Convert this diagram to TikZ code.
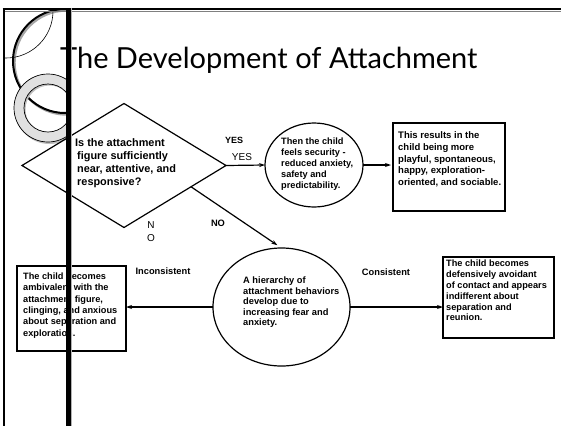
\documentclass[tikz,border=0pt]{standalone}
\usepackage{fontspec}
\setmainfont{Liberation Sans}
\newfontfamily\titlefont{Lato}
\usetikzlibrary{shapes.geometric,arrows.meta,calc}
\begin{document}
\begin{tikzpicture}[x=1pt,y=-1pt,
  txt/.style={inner sep=0pt, anchor=north west, align=left, font=\fontsize{9.5}{11.3}\selectfont\bfseries},
  lbl/.style={inner sep=0pt, font=\fontsize{9.3}{11}\selectfont\bfseries},
  lblr/.style={inner sep=0pt, font=\fontsize{10}{12}\selectfont},
  shapeln/.style={draw=black, line width=1.2pt, inner sep=0pt, outer sep=0pt},
  boxln/.style={draw=black, line width=1.6pt, rectangle, inner sep=0pt, outer sep=0pt},
  arr/.style={line width=1.2pt, -{Stealth[length=6pt,width=4pt]}},
  ttl/.style={anchor=base west, inner sep=0pt, font=\titlefont\fontsize{29}{34}\selectfont}
]
\useasboundingbox (0,0) rectangle (561,426);
\fill[white] (0,0) rectangle (561,426);

% decorations (clipped)
\begin{scope}
  \clip (3,9) rectangle (66,426);
  \draw[black!35, line width=2.4pt] (66.5,62.5) circle (52);
  \draw[black, line width=2pt] (65,61) circle (52);
  \draw[black, line width=0.6pt] (6,11) circle (47);
  \fill[black!25, even odd rule] (49.5,109.5) circle (34.5) (49.5,109.5) circle (24);
  \fill[black!12, even odd rule, draw=black, line width=0.7pt] (48,108) circle (34) (48,108) circle (24);
\end{scope}

% frame lines
\draw[black!50, line width=1pt] (4,11) -- (561,11);
\draw[black, line width=2pt] (2.5,8.5) -- (561,8.5);
\draw[black, line width=2pt] (3.5,8) -- (3.5,426);

% title
\node[ttl] (title) at (60,68) {The Development of Attachment};

% shapes
\node[shapeln, diamond, minimum width=204pt, minimum height=124pt] (d) at (124,165.5) {};
\node[shapeln, ellipse, minimum width=98pt, minimum height=84pt] (e1) at (314,165) {};
\node[shapeln, ellipse, minimum width=137pt, minimum height=118pt] (e2) at (281.5,307) {};
\node[boxln, minimum width=112pt, minimum height=88pt] (b1) at (449,167) {};
\node[boxln, minimum width=109pt, minimum height=85pt] (lb) at (71.5,308.5) {};
\node[boxln, minimum width=111pt, minimum height=81pt] (rb) at (498.5,297.5) {};

% texts
\node[txt, font=\fontsize{10.9}{13}\selectfont\bfseries] (dt) at (77,138) {\hspace*{-2pt}Is the attachment\\figure sufficiently\\near, attentive, and\\responsive?};
\node[txt, font=\fontsize{9.2}{11}\selectfont\bfseries] (e1t) at (281,137.5) {Then the child\\feels security -\\reduced anxiety,\\safety and\\predictability.};
\node[txt, font=\fontsize{9.5}{11.75}\selectfont\bfseries] (b1t) at (398,131.5) {This results in the\\child being more\\playful, spontaneous,\\happy, exploration-\\oriented, and sociable.};
\node[txt, font=\fontsize{9.3}{10.6}\selectfont\bfseries] (e2t) at (243,276.5) {A hierarchy of\\attachment behaviors\\develop due to\\increasing fear and\\anxiety.};
\node[txt, font=\fontsize{9.2}{11.4}\selectfont\bfseries] (lbt) at (23,272.5) {The child becomes\\ambivalent with the\\attachment figure,\\clinging, and anxious\\about separation and\\exploration.};
\node[txt, font=\fontsize{9.2}{10.8}\selectfont\bfseries] (rbt) at (446,260) {The child becomes\\defensively avoidant\\of contact and appears\\indifferent about\\separation and\\reunion.};

% labels
\node[lbl, font=\fontsize{9}{11}\selectfont\bfseries] (yes1) at (234,140) {YES};
\node[lblr] (yes2) at (242,157) {YES};
\node[lblr] (n1) at (151,225) {N};
\node[lblr] (o1) at (151,238) {O};
\node[lbl] (no1) at (218,223) {NO};
\node[lbl] (incons) at (163,271) {Inconsistent};
\node[lbl] (cons) at (386,272) {Consistent};

% connectors
\coordinate (dp) at ($(d.east)!0.343!(d.south)$);
\draw[arr] (d.east) -- (e1.west);
\draw[arr, shorten >=2pt] (e1.east) -- (e1.east -| b1.west);
\draw[arr, shorten >=5pt] (dp) -- (e2.north);
\draw[arr] (e2.west) -- (e2.west -| lb.east);
\draw[arr] (e2.east) -- (e2.east -| rb.west);

% thick bar on top
\fill[black!30] (70.5,8) rectangle (72,426);
\fill[black] (66,8) rectangle (70.5,426);
\end{tikzpicture}
\end{document}
